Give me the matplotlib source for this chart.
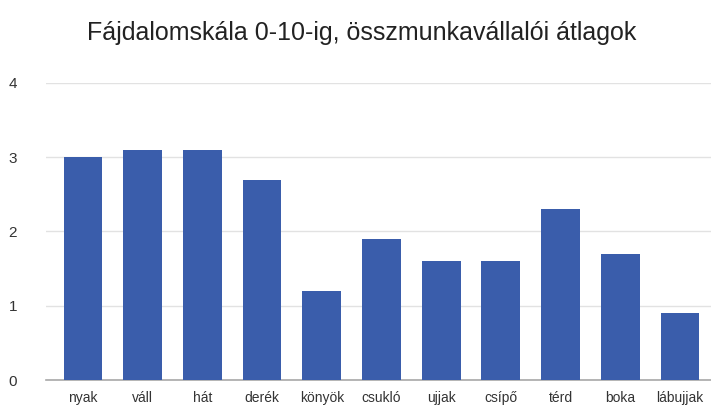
import matplotlib
matplotlib.use('Agg')
import matplotlib.pyplot as plt

# Chart data
categories = ['nyak', 'váll', 'hát', 'derék', 'könyök', 'csukló',
              'ujjak', 'csípő', 'térd', 'boka', 'lábujjak']
values = [3.0, 3.1, 3.1, 2.7, 1.2, 1.9, 1.6, 1.6, 2.3, 1.7, 0.9]
yticks = [0, 1, 2, 3, 4]

plt.rcParams['font.family'] = ['Liberation Sans', 'DejaVu Sans']

W, H = 711, 411
fig = plt.figure(figsize=(W / 100, H / 100), dpi=100)
ax = fig.add_axes([46 / W, (H - 380) / H, (711 - 46) / W, (380 - 83) / H])

x = list(range(len(categories)))
ax.bar(x, values, width=0.65, color='#3a5dab', zorder=3)

ax.set_xlim(-0.62, 10.52)
ax.set_ylim(0, 4)
ax.set_yticks(yticks)
ax.set_yticklabels([str(t) for t in yticks], fontsize=11, color='#333333')
ax.set_xticks(x)
ax.set_xticklabels(categories, fontsize=10, color='#333333')

ax.grid(axis='y', color='#e2e2e2', linewidth=1, zorder=0)
for s in ['top', 'right', 'left']:
    ax.spines[s].set_visible(False)
ax.spines['bottom'].set_color('#a8a8a8')
ax.spines['bottom'].set_linewidth(1.2)
ax.tick_params(axis='both', length=0)
ax.tick_params(axis='y', pad=27)
ax.tick_params(axis='x', pad=8)
for lbl in ax.get_yticklabels():
    lbl.set_horizontalalignment('left')

fig.text(362 / W, (H - 33) / H, 'Fájdalomskála 0-10-ig, összmunkavállalói átlagok',
         ha='center', va='center', fontsize=18, color='#222222')

plt.savefig('out.png', dpi=100)
